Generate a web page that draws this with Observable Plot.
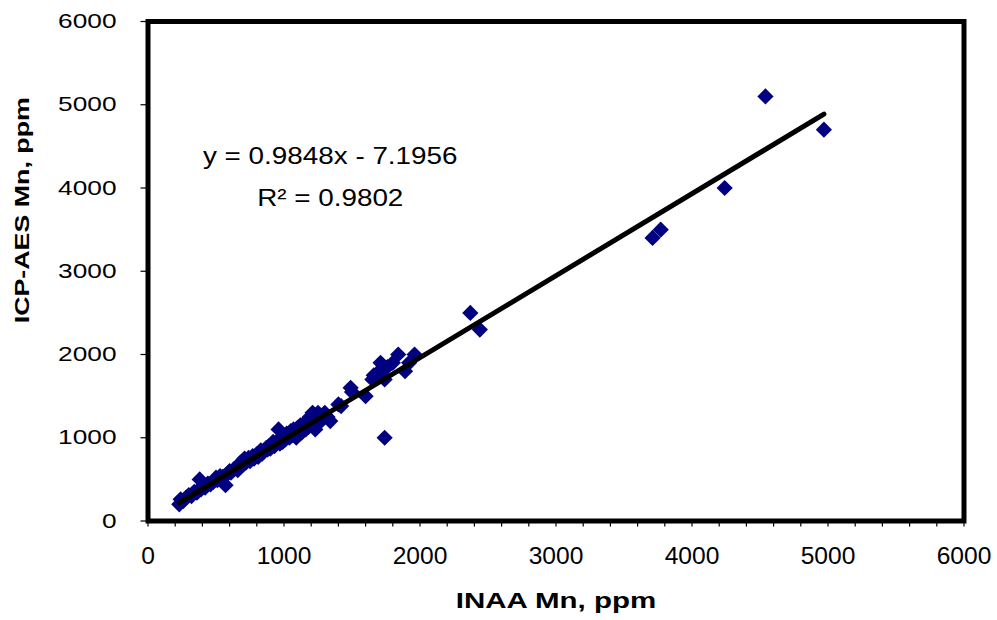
<!DOCTYPE html>
<html><head><meta charset="utf-8">
<script src="https://cdn.jsdelivr.net/npm/d3@7"></script>
<script src="https://cdn.jsdelivr.net/npm/@observablehq/plot@0.6"></script>
<style>body{margin:0;background:#fff}</style>
</head><body><div id="chart"></div>
<script>
// INAA Mn (x) vs ICP-AES Mn (y), ppm
const inaa = [230,240,260,280,300,320,340,360,380,390,400,420,440,460,480,500,510,530,550,570,580,600,610,630,650,660,680,700,710,720,740,750,770,780,800,810,830,840,850,870,880,890,900,920,930,950,960,970,980,990,1000,1010,1020,1040,1050,1060,1070,1080,1090,1100,1110,1120,1130,1150,1160,1170,1180,1190,1200,1210,1220,1230,1240,1250,1260,1280,1300,1320,1340,1400,1420,1490,1500,1600,1650,1660,1700,1710,1740,1740,1760,1800,1840,1890,1920,1960,2370,2440,3710,3770,4240,4540,4970];
const icp  = [200,260,240,280,310,300,350,340,500,380,420,400,450,440,470,520,490,540,530,430,560,600,580,620,640,610,700,680,750,700,760,720,780,750,800,770,850,810,830,880,860,900,870,950,900,960,1100,930,1000,950,1020,980,1050,1000,1080,1030,1100,1050,1000,1120,1080,1150,1060,1180,1100,1200,1130,1250,1150,1300,1200,1100,1250,1300,1180,1250,1300,1250,1200,1400,1380,1600,1550,1500,1700,1750,1800,1900,1700,1000,1850,1900,2000,1800,1900,2000,2500,2300,3400,3500,4000,5100,4700];
const slope = 0.9848;
const intercept = -7.1956;
const rSquared = 0.9802;
const xMajorTicks = [0,1000,2000,3000,4000,5000,6000];
const xMinorTicks = [0,200,400,600,800,1000,1200,1400,1600,1800,2000,2200,2400,2600,2800,3000,3200,3400,3600,3800,4000,4200,4400,4600,4800,5000,5200,5400,5600,5800,6000];
const yTicks = [0,1000,2000,3000,4000,5000,6000];

const points = inaa.map((x, i) => ({x, y: icp[i]}));
const xMin = d3.min(inaa), xMax = d3.max(inaa);
const fit = [xMin, xMax].map(x => ({x, y: slope * x + intercept}));
const eqText = `y = ${slope}x - ${Math.abs(intercept)}`;
const r2Text = `R\u00B2 = ${rSquared}`;

const chart = Plot.plot({
  width: 997,
  height: 620,
  marginLeft: 147.5,
  marginRight: 33.5,
  marginTop: 21,
  marginBottom: 99.5,
  style: {fontFamily: "'Liberation Sans', Arial, sans-serif", color: "#000", background: "#fff", overflow: "visible"},
  x: {domain: [0, 6000]},
  y: {domain: [0, 6000]},
  marks: [
    Plot.dot(points, {x: "x", y: "y", symbol: "diamond2", r: 7.3, fill: "#000080", stroke: "none"}),
    Plot.line(fit, {x: "x", y: "y", stroke: "#000", strokeWidth: 5, strokeLinecap: "round"}),
    Plot.frame({stroke: "#000", strokeWidth: 5}),
    Plot.axisX(xMinorTicks, {tickSize: 6, tickFormat: () => "", label: null, strokeWidth: 1.2}),
    Plot.axisX(xMajorTicks, {tickSize: 0, tickPadding: 27, fontSize: 23, label: null, tickFormat: d => String(d)}),
    Plot.axisY(yTicks, {tickSize: 7, tickPadding: 24.5, fontSize: 21, label: null, strokeWidth: 1.2, tickFormat: d => String(d)}),
    Plot.text([eqText], {x: 1340, y: 4380, text: d => d, fontSize: 24, textAnchor: "middle", lineAnchor: "middle", ariaDescription: "eq"}),
    Plot.text([r2Text], {x: 1340, y: 3880, text: d => d, fontSize: 24, textAnchor: "middle", lineAnchor: "middle", ariaDescription: "r2"}),
    Plot.text(["INAA Mn, ppm"], {frameAnchor: "bottom", dy: 80, text: d => d, fontSize: 22, fontWeight: "bold", textAnchor: "middle", lineAnchor: "middle", ariaDescription: "xtitle"}),
    Plot.text(["ICP-AES Mn, ppm"], {frameAnchor: "left", dx: -125.5, dy: -61, rotate: -90, text: d => d, fontSize: 20, fontWeight: "bold", textAnchor: "middle", lineAnchor: "middle", ariaDescription: "ytitle"})
  ]
});
document.getElementById("chart").append(chart);

// stretch glyphs along the text direction, like the reference rendering
function stretch(attr, value, f) {
  d3.select(chart).selectAll("text").each(function() {
    const g = this.parentNode;
    if (!g || g.getAttribute(attr) !== value || !this.textContent) return;
    const t = this.getAttribute("transform") || "";
    this.setAttribute("transform", `${t} scale(${f},1)`);
  });
}
stretch("aria-label", "x-axis tick label", 1.07);
stretch("aria-label", "y-axis tick label", 1.25);
stretch("aria-description", "eq", 1.16);
stretch("aria-description", "r2", 1.16);
stretch("aria-description", "xtitle", 1.34);
stretch("aria-description", "ytitle", 1.34);
</script>
</body></html>
